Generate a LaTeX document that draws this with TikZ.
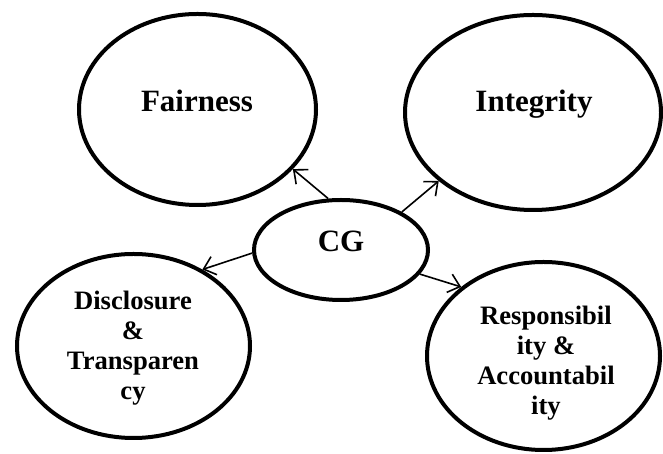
\documentclass[tikz,border=0pt]{standalone}
\usepackage{fontspec}
\setmainfont{Liberation Serif}
\usetikzlibrary{shapes.geometric,arrows.meta}
\begin{document}
\begin{tikzpicture}[x=1pt,y=1pt,
  oval/.style={ellipse, draw, line width=4pt, inner sep=0pt},
  bigtext/.style={font=\bfseries\fontsize{31}{34}\selectfont, inner sep=0pt, anchor=base},
  smalltext/.style={font=\bfseries\fontsize{26.6}{30}\selectfont, inner sep=0pt, align=center, anchor=base},
  link/.style={line width=1.6pt, -{Straight Barb[length=11pt,width=19pt]}}]
\useasboundingbox (0,0) rectangle (663,454);

\node[oval, minimum width=237pt, minimum height=191pt] (fair) at (197.5,344.5) {};
\node[oval, minimum width=256pt, minimum height=195pt] (integ) at (533,341.5) {};
\node[oval, minimum width=174pt, minimum height=100pt] (cg) at (341,204) {};
\node[oval, minimum width=233pt, minimum height=184pt] (disc) at (133.5,108) {};
\node[oval, minimum width=233pt, minimum height=188pt] (resp) at (543.5,98) {};

\node[bigtext] (tfair) at (197,342) {Fairness};
\node[bigtext] (tinteg) at (534,342) {Integrity};
\node[bigtext] (tcg) at (341,202) {CG};
\node[smalltext] (tdisc) at (133,54) {Disclosure\\ \&\\ Transparen\\ cy};
\node[smalltext] (tresp) at (546,39) {Responsibil\\ ity \&\\ Accountabil\\ ity};

\draw[link] (cg.104) -- (fair.-32);
\draw[link] (cg.32) -- (integ.216);
\draw[link] (cg.182) -- (disc.48.6);
\draw[link] (cg.-17) -- (resp.140);
\end{tikzpicture}
\end{document}
